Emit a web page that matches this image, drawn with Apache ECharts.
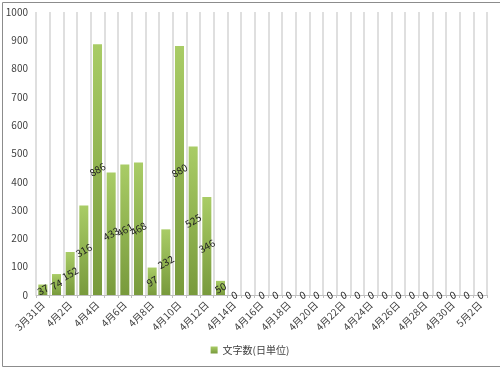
<!DOCTYPE html>
<html><head><meta charset="utf-8">
<script src="https://cdn.jsdelivr.net/npm/echarts@6/dist/echarts.min.js"></script>
<style>html,body{margin:0;padding:0;background:#fff}#c{width:500px;height:367px}</style>
</head><body><div id="c"></div>
<script>
const categories = ['3月31日','4月1日','4月2日','4月3日','4月4日','4月5日','4月6日','4月7日','4月8日','4月9日','4月10日','4月11日','4月12日','4月13日','4月14日','4月15日','4月16日','4月17日','4月18日','4月19日','4月20日','4月21日','4月22日','4月23日','4月24日','4月25日','4月26日','4月27日','4月28日','4月29日','4月30日','5月1日','5月2日'];
const values = [37,74,152,316,886,433,461,468,97,232,880,525,346,50,0,0,0,0,0,0,0,0,0,0,0,0,0,0,0,0,0,0,0];
const seriesName = '文字数(日単位)';
const font = '"Noto Sans CJK JP", "Liberation Sans", sans-serif';
const chart = echarts.init(document.getElementById('c'));
chart.setOption({
  animation: false,
  textStyle: {fontFamily: font},
  graphic: [{type:'rect', left:0, top:0, shape:{x:0.5,y:0.5,width:499,height:364}, style:{fill:null, stroke:'#8c8c8c', lineWidth:1}, silent:true}],
  grid: {left: 36, right: 13, top: 12, bottom: 72},
  legend: {bottom: 7, left: 'center', itemWidth: 7, itemHeight: 7, icon: 'rect', itemGap: 4,
    textStyle: {fontSize: 10, color: '#404040', fontFamily: font}, data: [seriesName]},
  xAxis: {type: 'category', data: categories,
    axisLine: {lineStyle: {color: '#bfbfbf'}},
    axisTick: {show: true, interval: 0, length: 3, lineStyle: {color: '#bfbfbf'}},
    splitLine: {show: true, interval: 0, lineStyle: {color: '#d4d4d4', width: 1.5}},
    axisLabel: {interval: 1, rotate: 45, fontSize: 10, color: '#404040', fontFamily: font, margin: 8}},
  yAxis: {type: 'value', min: 0, max: 1000, interval: 100,
    axisLine: {show: false}, axisTick: {show: false}, splitLine: {show: false},
    axisLabel: {fontSize: 10, color: '#404040', margin: 8, fontFamily: font, formatter: v => String(v)}},
  series: [{name: seriesName, type: 'bar', data: values, barCategoryGap: '34%',
    itemStyle: {color: new echarts.graphic.LinearGradient(0,0,0,1,[{offset:0,color:'#a9cc66'},{offset:1,color:'#789a3c'}])},
    label: {show: true, position: 'inside', rotate: 30, fontSize: 10, color: '#222', fontFamily: font}}]
});
</script></body></html>
